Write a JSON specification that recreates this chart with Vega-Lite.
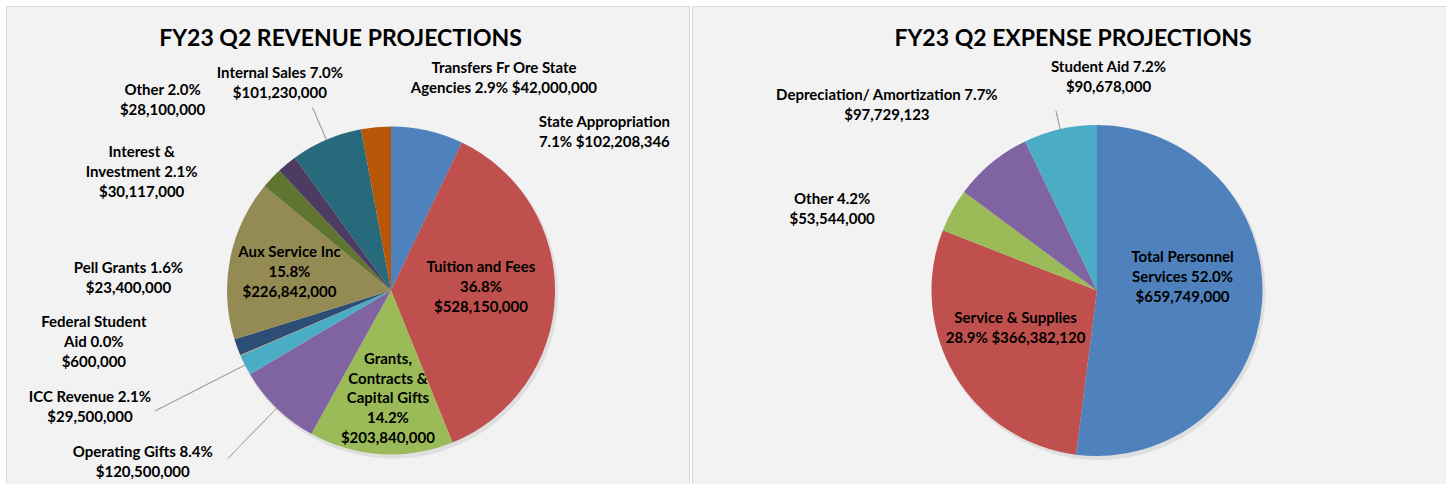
{
  "$schema": "https://vega.github.io/schema/vega-lite/v6.json",
  "background": "#ffffff",
  "padding": {"left": 5, "top": 5, "right": 0, "bottom": 0},
  "spacing": 3,
  "bounds": "flush",
  "config": {
    "view": {"fill": "#f2f2f2", "stroke": "#d9d9d9", "strokeWidth": 1},
    "text": {"font": "Lato", "fontWeight": "bold", "fontSize": 15, "color": "#000000", "lineBreak": "\n", "lineHeight": 20, "align": "center", "baseline": "middle"},
    "title": {"font": "Lato", "fontWeight": "bold", "fontSize": 23, "color": "#000000", "anchor": "middle", "frame": "group"}
  },
  "resolve": {"scale": {"color": "independent", "theta": "independent"}},
  "datasets": {
    "revenue": [
      {"category": "State Appropriation", "value": 102208346, "order": 1, "label": "State Appropriation\n7.1% $102,208,346"},
      {"category": "Tuition and Fees", "value": 528150000, "order": 2, "label": "Tuition and Fees\n36.8%\n$528,150,000"},
      {"category": "Grants, Contracts & Capital Gifts", "value": 203840000, "order": 3, "label": "Grants,\nContracts &\nCapital Gifts\n14.2%\n$203,840,000"},
      {"category": "Operating Gifts", "value": 120500000, "order": 4, "label": "Operating Gifts 8.4%\n$120,500,000"},
      {"category": "ICC Revenue", "value": 29500000, "order": 5, "label": "ICC Revenue 2.1%\n$29,500,000"},
      {"category": "Federal Student Aid", "value": 600000, "order": 6, "label": "Federal Student\nAid 0.0%\n$600,000"},
      {"category": "Pell Grants", "value": 23400000, "order": 7, "label": "Pell Grants 1.6%\n$23,400,000"},
      {"category": "Aux Service Inc", "value": 226842000, "order": 8, "label": "Aux Service Inc\n15.8%\n$226,842,000"},
      {"category": "Interest & Investment", "value": 30117000, "order": 9, "label": "Interest &\nInvestment 2.1%\n$30,117,000"},
      {"category": "Other", "value": 28100000, "order": 10, "label": "Other 2.0%\n$28,100,000"},
      {"category": "Internal Sales", "value": 101230000, "order": 11, "label": "Internal Sales 7.0%\n$101,230,000"},
      {"category": "Transfers Fr Ore State Agencies", "value": 42000000, "order": 12, "label": "Transfers Fr Ore State\nAgencies 2.9% $42,000,000"}
    ],
    "expense": [
      {"category": "Total Personnel Services", "value": 659749000, "order": 1, "label": "Total Personnel\nServices 52.0%\n$659,749,000"},
      {"category": "Service & Supplies", "value": 366382120, "order": 2, "label": "Service & Supplies\n28.9% $366,382,120"},
      {"category": "Other", "value": 53544000, "order": 3, "label": "Other 4.2%\n$53,544,000"},
      {"category": "Depreciation/ Amortization", "value": 97729123, "order": 4, "label": "Depreciation/ Amortization 7.7%\n$97,729,123"},
      {"category": "Student Aid", "value": 90678000, "order": 5, "label": "Student Aid 7.2%\n$90,678,000"}
    ]
  },
  "hconcat": [
    {
      "width": 683,
      "height": 479,
      "view": {"fill": "#f2f2f2", "stroke": "#d9d9d9", "strokeWidth": 1},
      "title": {"text": "FY23 Q2 REVENUE PROJECTIONS", "offset": -45, "dx": -7},
      "data": {"name": "revenue"},
      "encoding": {
        "theta": {"field": "value", "type": "quantitative", "stack": true},
        "order": {"field": "order", "type": "quantitative"},
        "detail": {"field": "category", "type": "nominal"}
      },
      "layer": [
        {
          "mark": {"type": "arc", "outerRadius": 165, "xOffset": 45.5, "yOffset": 48, "color": "#c8c8c8", "opacity": 0.45}
        },
        {
          "mark": {"type": "arc", "outerRadius": 164, "xOffset": 43.5, "yOffset": 45},
          "encoding": {
            "color": {
              "field": "category", "type": "nominal", "legend": null,
              "scale": {
                "domain": ["State Appropriation", "Tuition and Fees", "Grants, Contracts & Capital Gifts", "Operating Gifts", "ICC Revenue", "Federal Student Aid", "Pell Grants", "Aux Service Inc", "Interest & Investment", "Other", "Internal Sales", "Transfers Fr Ore State Agencies"],
                "range": ["#4f81bd", "#c0504d", "#9bbb59", "#8064a2", "#4bacc6", "#f79646", "#2c4d75", "#948a54", "#5f7530", "#4d3b62", "#276a7c", "#b65708"]
              }
            }
          }
        },
        {
          "transform": [
            {"stack": "value", "groupby": [], "sort": [{"field": "order", "order": "ascending"}], "as": ["s0", "s1"]},
            {"calculate": "(datum.s0 + datum.s1) / 2", "as": "mid"},
            {"filter": "datum.category === 'Operating Gifts'"}
          ],
          "mark": {"type": "arc", "innerRadius": 164, "outerRadius": 234, "xOffset": 43.5, "yOffset": 45, "fillOpacity": 0, "stroke": "#a6a6a6", "strokeWidth": 1},
          "encoding": {"theta": {"field": "mid", "type": "quantitative", "stack": null}, "theta2": {"field": "mid"}}
        },
        {
          "transform": [
            {"stack": "value", "groupby": [], "sort": [{"field": "order", "order": "ascending"}], "as": ["s0", "s1"]},
            {"calculate": "(datum.s0 + datum.s1) / 2", "as": "mid"},
            {"filter": "datum.category === 'ICC Revenue'"}
          ],
          "mark": {"type": "arc", "innerRadius": 164, "outerRadius": 265, "xOffset": 43.5, "yOffset": 45, "fillOpacity": 0, "stroke": "#a6a6a6", "strokeWidth": 1},
          "encoding": {"theta": {"field": "mid", "type": "quantitative", "stack": null}, "theta2": {"field": "mid"}}
        },
        {
          "transform": [
            {"stack": "value", "groupby": [], "sort": [{"field": "order", "order": "ascending"}], "as": ["s0", "s1"]},
            {"calculate": "(datum.s0 + datum.s1) / 2", "as": "mid"},
            {"filter": "datum.category === 'Internal Sales'"}
          ],
          "mark": {"type": "arc", "innerRadius": 164, "outerRadius": 199, "xOffset": 43.5, "yOffset": 45, "fillOpacity": 0, "stroke": "#a6a6a6", "strokeWidth": 1},
          "encoding": {"theta": {"field": "mid", "type": "quantitative", "stack": null}, "theta2": {"field": "mid"}}
        },
        {"mark": {"type": "text", "radius": 90, "xOffset": 43.5, "yOffset": 45, "dx": 0, "dy": -26.5},
         "encoding": {"text": {"condition": {"test": "datum.category === 'Tuition and Fees'", "field": "label"}, "value": ""}}},
        {"mark": {"type": "text", "radius": 107, "xOffset": 43.5, "yOffset": 45, "dx": 3.5, "dy": -38, "lineHeight": 19.6},
         "encoding": {"text": {"condition": {"test": "datum.category === 'Grants, Contracts & Capital Gifts'", "field": "label"}, "value": ""}}},
        {"mark": {"type": "text", "radius": 104, "xOffset": 43.5, "yOffset": 45, "dx": 0.5, "dy": -18.5},
         "encoding": {"text": {"condition": {"test": "datum.category === 'Aux Service Inc'", "field": "label"}, "value": ""}}},
        {"mark": {"type": "text", "radius": 164, "xOffset": 43.5, "yOffset": 45, "dx": 177, "dy": -9},
         "encoding": {"text": {"condition": {"test": "datum.category === 'State Appropriation'", "field": "label"}, "value": ""}}},
        {"mark": {"type": "text", "radius": 164, "xOffset": 43.5, "yOffset": 45, "dx": -134, "dy": 44},
         "encoding": {"text": {"condition": {"test": "datum.category === 'Operating Gifts'", "field": "label"}, "value": ""}}},
        {"mark": {"type": "text", "radius": 164, "xOffset": 43.5, "yOffset": 45, "dx": -155, "dy": 32.4},
         "encoding": {"text": {"condition": {"test": "datum.category === 'ICC Revenue'", "field": "label"}, "value": ""}}},
        {"mark": {"type": "text", "radius": 164, "xOffset": 43.5, "yOffset": 45, "dx": -146.5, "dy": -33.3},
         "encoding": {"text": {"condition": {"test": "datum.category === 'Federal Student Aid'", "field": "label"}, "value": ""}}},
        {"mark": {"type": "text", "radius": 164, "xOffset": 43.5, "yOffset": 45, "dx": -108.7, "dy": -79},
         "encoding": {"text": {"condition": {"test": "datum.category === 'Pell Grants'", "field": "label"}, "value": ""}}},
        {"mark": {"type": "text", "radius": 164, "xOffset": 43.5, "yOffset": 45, "dx": -130, "dy": -25.8},
         "encoding": {"text": {"condition": {"test": "datum.category === 'Interest & Investment'", "field": "label"}, "value": ""}}},
        {"mark": {"type": "text", "radius": 164, "xOffset": 43.5, "yOffset": 45, "dx": -124.3, "dy": -74.2},
         "encoding": {"text": {"condition": {"test": "datum.category === 'Other'", "field": "label"}, "value": ""}}},
        {"mark": {"type": "text", "radius": 164, "xOffset": 43.5, "yOffset": 45, "dx": -46.5, "dy": -66.7},
         "encoding": {"text": {"condition": {"test": "datum.category === 'Internal Sales'", "field": "label"}, "value": ""}}},
        {"mark": {"type": "text", "radius": 164, "xOffset": 43.5, "yOffset": 45, "dx": 128, "dy": -58.7},
         "encoding": {"text": {"condition": {"test": "datum.category === 'Transfers Fr Ore State Agencies'", "field": "label"}, "value": ""}}}
      ]
    },
    {
      "width": 755,
      "height": 479,
      "view": {"fill": "#f2f2f2", "stroke": "#d9d9d9", "strokeWidth": 1},
      "title": {"text": "FY23 Q2 EXPENSE PROJECTIONS", "offset": -45, "dx": 3.5},
      "data": {"name": "expense"},
      "encoding": {
        "theta": {"field": "value", "type": "quantitative", "stack": true},
        "order": {"field": "order", "type": "quantitative"},
        "detail": {"field": "category", "type": "nominal"}
      },
      "layer": [
        {
          "mark": {"type": "arc", "outerRadius": 166.5, "xOffset": 29.5, "yOffset": 48, "color": "#c8c8c8", "opacity": 0.45}
        },
        {
          "mark": {"type": "arc", "outerRadius": 165.5, "xOffset": 27.5, "yOffset": 45},
          "encoding": {
            "color": {
              "field": "category", "type": "nominal", "legend": null,
              "scale": {
                "domain": ["Total Personnel Services", "Service & Supplies", "Other", "Depreciation/ Amortization", "Student Aid"],
                "range": ["#4f81bd", "#c0504d", "#9bbb59", "#8064a2", "#4bacc6"]
              }
            }
          }
        },
        {
          "transform": [
            {"stack": "value", "groupby": [], "sort": [{"field": "order", "order": "ascending"}], "as": ["s0", "s1"]},
            {"calculate": "(datum.s0 + datum.s1) / 2", "as": "mid"},
            {"filter": "datum.category === 'Student Aid'"}
          ],
          "mark": {"type": "arc", "innerRadius": 165.5, "outerRadius": 184, "xOffset": 27.5, "yOffset": 45, "fillOpacity": 0, "stroke": "#a6a6a6", "strokeWidth": 1},
          "encoding": {"theta": {"field": "mid", "type": "quantitative", "stack": null}, "theta2": {"field": "mid"}}
        },
        {"mark": {"type": "text", "radius": 85, "xOffset": 27.5, "yOffset": 45, "dx": 0.7, "dy": -39.3},
         "encoding": {"text": {"condition": {"test": "datum.category === 'Total Personnel Services'", "field": "label"}, "value": ""}}},
        {"mark": {"type": "text", "radius": 90, "xOffset": 27.5, "yOffset": 45, "dx": -4, "dy": -18.5},
         "encoding": {"text": {"condition": {"test": "datum.category === 'Service & Supplies'", "field": "label"}, "value": ""}}},
        {"mark": {"type": "text", "radius": 165.5, "xOffset": 27.5, "yOffset": 45, "dx": -120, "dy": -11},
         "encoding": {"text": {"condition": {"test": "datum.category === 'Other'", "field": "label"}, "value": ""}}},
        {"mark": {"type": "text", "radius": 165.5, "xOffset": 27.5, "yOffset": 45, "dx": -104.6, "dy": -68.2},
         "encoding": {"text": {"condition": {"test": "datum.category === 'Depreciation/ Amortization'", "field": "label"}, "value": ""}}},
        {"mark": {"type": "text", "radius": 165.5, "xOffset": 27.5, "yOffset": 45, "dx": 48.4, "dy": -61.8},
         "encoding": {"text": {"condition": {"test": "datum.category === 'Student Aid'", "field": "label"}, "value": ""}}}
      ]
    }
  ]
}
